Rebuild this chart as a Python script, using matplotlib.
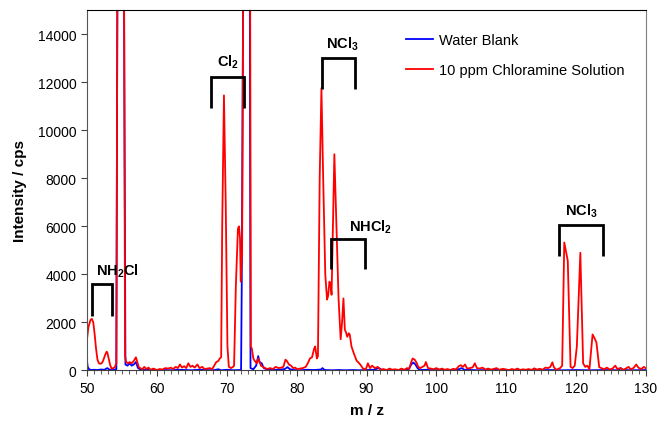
import numpy as np
import matplotlib
matplotlib.use("Agg")
import matplotlib.pyplot as plt

plt.rcParams['font.family'] = ['Liberation Sans', 'DejaVu Sans']
plt.rcParams['mathtext.fontset'] = 'custom'
plt.rcParams['mathtext.rm'] = 'Liberation Sans'
plt.rcParams['mathtext.bf'] = 'Liberation Sans:bold'

# 10 ppm chloramine solution (red)
red_mz = [50.0, 50.2, 50.5, 50.7, 50.9, 51.1, 51.3, 51.5, 51.7, 51.9, 52.1, 52.3, 52.6, 52.8, 52.9,
          53.1, 53.3, 53.5, 53.8, 54.0, 54.2, 54.35, 55.3, 55.45, 55.6, 55.9, 56.1, 56.4, 56.7, 57.0,
          57.2, 57.4, 57.6, 57.9, 58.2, 58.5, 58.8, 59.1, 59.5, 60.0, 60.4, 60.8, 61.2, 61.6, 62.0,
          62.3, 62.7, 63.0, 63.3, 63.6, 63.9, 64.2, 64.5, 64.8, 65.1, 65.4, 65.8, 66.1, 66.5, 66.8,
          67.2, 67.6, 67.9, 68.2, 68.5, 68.8, 69.0, 69.2, 69.35, 69.6, 69.85, 70.1, 70.3, 70.6, 70.9,
          71.05, 71.3, 71.6, 71.75, 71.9, 72.0, 72.2, 72.35, 73.35, 73.45, 73.6, 73.8, 74.0, 74.3,
          74.5, 74.7, 74.9, 75.2, 75.5, 75.8, 76.2, 76.6, 77.0, 77.4, 77.8, 78.1, 78.4, 78.6, 78.9,
          79.2, 79.5, 79.8, 80.1, 80.5, 80.9, 81.3, 81.6, 81.9, 82.2, 82.5, 82.65, 82.9, 83.05, 83.3,
          83.55, 83.8, 84.1, 84.35, 84.5, 84.7, 84.85, 85.0, 85.4, 85.7, 86.0, 86.3, 86.5, 86.7, 86.9,
          87.05, 87.25, 87.45, 87.6, 87.85, 88.2, 88.6, 88.8, 89.1, 89.5, 89.9, 90.2, 90.5, 90.8,
          91.2, 91.6, 92.0, 92.4, 92.9, 93.3, 93.7, 94.1, 94.6, 95.0, 95.4, 95.8, 96.1, 96.4, 96.6,
          96.9, 97.2, 97.4, 97.7, 98.0, 98.3, 98.5, 98.8, 99.2, 99.6, 100.0, 100.4, 100.8, 101.2,
          101.6, 102.0, 102.4, 102.8, 103.2, 103.5, 103.8, 104.1, 104.4, 104.8, 105.2, 105.5, 105.8,
          106.2, 106.6, 107.0, 107.4, 107.8, 108.2, 108.6, 109.0, 109.5, 110.0, 110.4, 110.8, 111.2,
          111.6, 112.0, 112.4, 112.8, 113.2, 113.6, 114.0, 114.4, 114.8, 115.2, 115.6, 116.0, 116.3,
          116.6, 116.8, 117.1, 117.4, 117.7, 118.0, 118.3, 118.8, 119.2, 119.5, 119.8, 120.1, 120.6,
          121.0, 121.3, 121.6, 121.9, 122.35, 122.7, 122.9, 123.3, 123.6, 124.0, 124.4, 124.8, 125.2,
          125.6, 125.9, 126.3, 126.7, 127.1, 127.5, 127.8, 128.2, 128.6, 128.9, 129.3, 129.7, 130.0]
red_int = [1300, 1800, 2100, 2150, 2000, 1500, 900, 450, 300, 280, 300, 400, 650, 780, 760,
           500, 250, 80, 100, 150, 300, 16000, 16000, 600, 350, 300, 350, 300, 400, 550,
           350, 150, 100, 50, 150, 60, 120, 30, 80, 20, 60, 40, 100, 80, 120,
           60, 150, 100, 250, 120, 180, 100, 300, 150, 200, 120, 250, 100, 150, 60,
           80, 100, 50, 200, 350, 400, 500, 550, 6000, 11450, 7000, 1000, 150, 100, 150,
           200, 3500, 5900, 6000, 5500, 3700, 5000, 16000, 16000, 1000, 900, 500, 400, 300,
           500, 350, 200, 150, 100, 60, 100, 60, 150, 100, 120, 150, 450, 400, 250,
           200, 100, 120, 50, 80, 100, 150, 300, 500, 550, 900, 1000, 500, 600, 8000,
           11750, 8000, 4000, 2950, 3100, 3700, 3600, 3150, 9000, 6000, 3000, 1300, 2000, 3000, 1700,
           1600, 1400, 1550, 1500, 1000, 700, 400, 350, 250, 80, 50, 300, 100, 200,
           100, 150, 30, 60, 20, 80, 30, 50, 20, 80, 30, 100, 60, 350, 500,
           450, 300, 150, 100, 150, 200, 350, 100, 80, 50, 100, 40, 80, 30,
           60, 20, 70, 40, 180, 220, 150, 250, 80, 100, 130, 300, 100,
           80, 120, 40, 80, 40, 60, 100, 30, 70, 40, 20, 60, 30,
           80, 20, 50, 30, 60, 20, 90, 40, 70, 30, 120, 100, 150,
           340, 150, 30, 60, 100, 200, 5330, 4570, 150, 100, 200, 1000, 4900,
           300, 150, 200, 50, 1500, 1300, 1170, 140, 100, 50, 120, 40, 80,
           200, 60, 100, 30, 80, 150, 50, 100, 250, 120, 60, 150, 80]

# water blank (blue)
blue_mz = [50.0, 50.1, 50.3, 50.6, 51.0, 51.5, 52.0, 52.5, 52.9, 53.3, 53.8, 54.2, 54.35, 55.3,
           55.5, 55.8, 56.1, 56.4, 56.7, 57.0, 57.3, 57.6, 58.0, 59.0, 60.0, 61.0, 62.0, 63.0,
           64.0, 65.0, 66.0, 67.0, 68.0, 68.8, 69.2, 70.0, 71.0, 71.8, 72.05, 72.15, 72.35,
           73.3, 73.4, 73.8, 74.2, 74.5, 74.7, 75.0, 75.3, 75.7, 76.5, 77.5, 78.3, 78.7, 79.0,
           79.5, 80.5, 81.5, 82.5, 83.5, 83.7, 84.0, 85.0, 86.0, 87.0, 88.0, 89.0, 90.0, 91.0,
           91.8, 92.2, 93.0, 94.0, 95.0, 96.0, 96.4, 96.7, 97.0, 97.3, 97.6, 98.5, 99.5, 100.5,
           101.5, 102.5, 103.3, 103.6, 104.0, 105.0, 106.0, 107.0, 108.0, 108.3, 108.6, 110.0,
           112.0, 114.0, 116.0, 118.0, 120.0, 122.0, 124.0, 126.0, 126.4, 126.7, 128.0, 130.0]
blue_int = [400, 150, 50, 20, 30, 20, 40, 30, 100, 20, 30, 50, 16000, 16000,
            250, 200, 300, 200, 250, 350, 100, 50, 20, 30, 10, 20, 10, 30,
            20, 10, 30, 20, 10, 50, 10, 30, 10, 20, 0, 3700, 16000,
            16000, 100, 50, 200, 600, 350, 300, 100, 50, 20, 30, 60, 140, 60,
            20, 10, 30, 20, 40, 100, 20, 10, 20, 10, 20, 10, 20, 30,
            100, 20, 10, 20, 10, 30, 250, 330, 250, 100, 20, 30, 10, 20,
            10, 20, 60, 100, 30, 20, 10, 20, 20, 60, 20, 10,
            20, 10, 20, 10, 20, 10, 20, 10, 100, 20, 10, 20]

# bracket annotations: label, bracket left, right, top, leg bottom, label x, label y
labels = [r'$\mathbf{NH_2Cl}$', r'$\mathbf{Cl_2}$', r'$\mathbf{NCl_3}$', r'$\mathbf{NHCl_2}$', r'$\mathbf{NCl_3}$']
br_left = [50.7, 67.7, 83.6, 84.9, 117.5]
br_right = [53.6, 72.45, 88.4, 89.8, 123.9]
br_top = [3590, 12200, 13000, 5490, 6040]
br_bottom = [2250, 10930, 11720, 4210, 4770]
lab_x = [54.3, 70.2, 86.5, 90.6, 120.8]
lab_y = [4150, 12850, 13600, 6000, 6650]

fig = plt.figure(figsize=(6.58, 4.27), dpi=100)
ax = fig.add_axes([0.1322, 0.13, 0.8496, 0.844])

ax.plot(blue_mz, blue_int, color='#0000ff', lw=1.3, label='Water Blank')
ax.plot(red_mz, red_int, color='#ff0000', lw=1.3, label='10 ppm Chloramine Solution')

for i in range(len(labels)):
    ax.plot([br_left[i], br_left[i], br_right[i], br_right[i]],
            [br_bottom[i], br_top[i], br_top[i], br_bottom[i]],
            color='black', lw=2.0, solid_capstyle='butt', solid_joinstyle='miter')
    ax.text(lab_x[i], lab_y[i], labels[i], ha='center', va='center', fontsize=10.5)

ax.set_xlim(50, 130)
ax.set_ylim(0, 15000)
ax.set_xticks(np.arange(50, 131, 10))
ax.set_xticks(np.arange(50, 131, 1), minor=True)
ax.set_yticks(np.arange(0, 14001, 2000))
ax.tick_params(axis='both', which='major', labelsize=10, length=4, direction='out', color='#404040')
ax.tick_params(axis='x', which='minor', length=3, direction='out', color='#404040')

ax.spines['top'].set_color('black')
ax.spines['left'].set_color('#555555')
ax.spines['bottom'].set_color('#404040')
ax.spines['right'].set_color('#808080')

ax.set_xlabel('m / z', fontsize=11, fontweight='bold', labelpad=6)
ax.set_ylabel('Intensity / cps', fontsize=11, fontweight='bold', labelpad=8)

ax.legend(loc='upper left', bbox_to_anchor=(0.548, 0.972), frameon=False, fontsize=10.5,
          handlelength=1.85, handletextpad=0.35, labelspacing=1.1)

fig.savefig('out.png', dpi=100)
